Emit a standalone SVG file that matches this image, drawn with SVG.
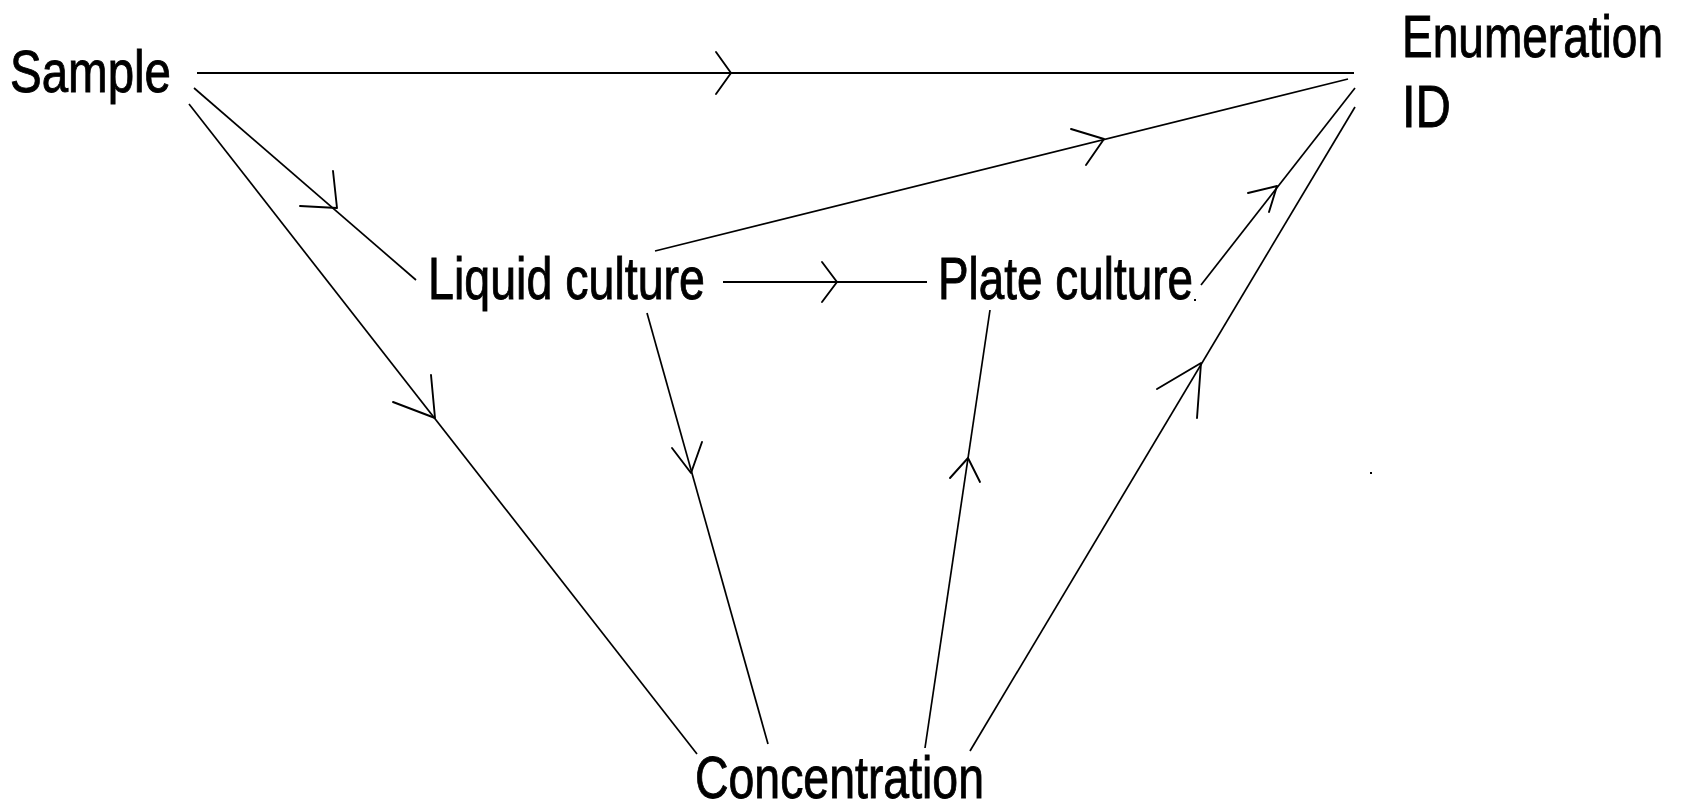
<svg xmlns="http://www.w3.org/2000/svg" width="1682" height="808" viewBox="0 0 1682 808">
<style>
.lbl{font-family:"Liberation Sans",Arial,sans-serif;font-size:59px;fill:#000;stroke:#000;stroke-width:0.9}
.h{stroke:#000;stroke-width:2.2;fill:none}
.d{stroke:#000;stroke-width:1.7;fill:none}
.ah{stroke:#000;stroke-width:1.9;fill:none;stroke-linecap:round;stroke-linejoin:round}
</style>
<rect width="1682" height="808" fill="#fff"/>
<g id="connectors">
  <!-- Sample -> Enumeration -->
  <line class="h" x1="197" y1="73" x2="1354" y2="73"/>
  <polyline class="ah" points="716,52 731,73 716,94"/>
  <!-- Sample -> Liquid culture -->
  <line class="d" x1="194" y1="88" x2="416" y2="280"/>
  <polyline class="ah" points="333,171 337,208 300,206"/>
  <!-- Sample -> Concentration -->
  <line class="d" x1="189" y1="104" x2="697" y2="754"/>
  <polyline class="ah" points="431,375 435,418 393,402"/>
  <!-- Liquid culture -> Enumeration -->
  <line class="d" x1="655" y1="251" x2="1348" y2="79"/>
  <polyline class="ah" points="1071,129 1104,139 1086,165"/>
  <!-- Liquid culture -> Plate culture -->
  <line class="h" x1="723" y1="282" x2="927" y2="282"/>
  <polyline class="ah" points="822,262 837,282 822,302"/>
  <!-- Liquid culture -> Concentration -->
  <line class="d" x1="647" y1="313" x2="768" y2="744"/>
  <polyline class="ah" points="672,448 691,473 702,442"/>
  <!-- Concentration -> Plate culture -->
  <line class="d" x1="925" y1="748" x2="990" y2="310"/>
  <polyline class="ah" points="950,478 968,458 980,482"/>
  <!-- Plate culture -> Enumeration -->
  <line class="d" x1="1201" y1="285" x2="1355" y2="88"/>
  <polyline class="ah" points="1248,193 1277,186 1269,212"/>
  <!-- Concentration -> Enumeration -->
  <line class="d" x1="970" y1="751" x2="1355" y2="107"/>
  <polyline class="ah" points="1157,389 1201,363 1197,418"/>
  <!-- stray marks -->
  <rect x="1194" y="299" width="2" height="2" fill="#000"/>
  <rect x="1370" y="472" width="2" height="2" fill="#000"/>
</g>
<g id="node-sample">
  <text class="lbl" x="10" y="92" textLength="161" lengthAdjust="spacingAndGlyphs">Sample</text>
</g>
<g id="node-enumeration">
  <text class="lbl" x="1402" y="57" textLength="261" lengthAdjust="spacingAndGlyphs">Enumeration</text>
  <text class="lbl" x="1402" y="127" textLength="49" lengthAdjust="spacingAndGlyphs">ID</text>
</g>
<g id="node-liquid">
  <text class="lbl" x="428" y="299" textLength="277" lengthAdjust="spacingAndGlyphs">Liquid culture</text>
</g>
<g id="node-plate">
  <text class="lbl" x="938" y="299" textLength="255" lengthAdjust="spacingAndGlyphs">Plate culture</text>
</g>
<g id="node-concentration">
  <text class="lbl" x="695" y="798" textLength="289" lengthAdjust="spacingAndGlyphs">Concentration</text>
</g>
</svg>
